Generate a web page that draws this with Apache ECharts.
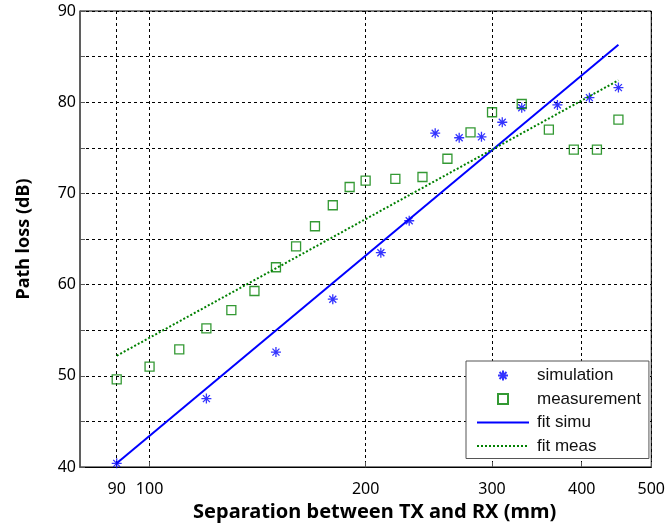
<!DOCTYPE html>
<html>
<head>
<meta charset="utf-8">
<script src="https://cdn.jsdelivr.net/npm/echarts@6/dist/echarts.min.js"></script>
<style>
  html, body { margin: 0; padding: 0; background: #fff; }
  #chart { width: 668px; height: 530px; }
</style>
</head>
<body>
<div id="chart"></div>
<script>
// Path loss vs. TX-RX separation (log distance axis)
const simDistance = [90, 120, 150, 180, 210, 230, 250, 270, 290, 310, 330, 370, 410, 450];
const simLoss     = [40.4, 47.5, 52.6, 58.4, 63.5, 67.0, 76.6, 76.1, 76.2, 77.8, 79.4, 79.7, 80.5, 81.6];

const measDistance = [90, 100, 110, 120, 130, 140, 150, 160, 170, 180, 190, 200, 220, 240, 260, 280, 300, 330, 360, 390, 420, 450];
const measLoss     = [49.6, 51.0, 52.9, 55.2, 57.2, 59.3, 61.9, 64.2, 66.4, 68.7, 70.7, 71.4, 71.6, 71.8, 73.8, 76.7, 78.9, 79.8, 77.0, 74.8, 74.8, 78.1];

// Fitted lines (straight in log-distance), given by their end points
const fitDistance = [90, 450];
const fitSimuLoss = [40.4, 86.3];
const fitMeasLoss = [52.2, 82.4];

const xTicks = [90, 100, 200, 300, 400, 500];
const yMin = 40, yMax = 90, yStep = 5;

const pairs = (xs, ys) => xs.map((x, i) => [x, ys[i]]);

const asterisk = 'path://M5,0V10M0,5H10M1.5,1.5L8.5,8.5M1.5,8.5L8.5,1.5';
const square = 'path://M0,0H10V10H0Z';
const blue = '#0000ff';
const green = '#008000';
const tickFont = { fontFamily: 'Noto Sans', fontSize: 16, color: '#000' };
const gridDash = { color: '#000', width: 1, type: [3, 3] };

const chart = echarts.init(document.getElementById('chart'), null, { renderer: 'canvas' });

chart.setOption({
  animation: false,
  backgroundColor: '#fff',
  grid: {
    left: 80, top: 11, right: 12, bottom: 63,
    show: true, borderColor: '#000', borderWidth: 1, backgroundColor: 'transparent'
  },
  xAxis: {
    type: 'log',
    logBase: 10,
    min: 80,
    max: 500,
    name: 'Separation between TX and RX (mm)',
    nameLocation: 'middle',
    nameGap: 35,
    nameTextStyle: { fontFamily: 'Noto Sans', fontSize: 20, fontWeight: 'bold', color: '#000', padding: [0, 0, 0, 18] },
    axisLine: { show: true, lineStyle: { color: '#000', width: 1 } },
    axisTick: { show: true, inside: true, length: 5, customValues: xTicks, lineStyle: { color: '#555' } },
    axisLabel: { customValues: xTicks, margin: 14, ...tickFont, formatter: v => String(Math.round(v)) },
    splitLine: { show: true, lineStyle: gridDash },
    minorTick: { show: false },
    minorSplitLine: { show: false }
  },
  yAxis: {
    type: 'value',
    min: yMin,
    max: yMax,
    interval: yStep,
    name: 'Path loss (dB)',
    nameLocation: 'middle',
    nameGap: 47,
    nameTextStyle: { fontFamily: 'Noto Sans', fontSize: 18, fontWeight: 'bold', color: '#000' },
    axisLine: { show: true, lineStyle: { color: '#555', width: 1.5 } },
    axisTick: { show: true, inside: true, length: 5, lineStyle: { color: '#555' } },
    axisLabel: { margin: 4, ...tickFont, formatter: v => (v % 10 === 0 ? String(v) : '') },
    splitLine: { show: true, lineStyle: gridDash }
  },
  legend: {
    orient: 'vertical',
    left: 466,
    top: 361,
    padding: [6, 8, 4, 10],
    itemWidth: 52,
    itemHeight: 10,
    itemGap: 6.5,
    backgroundColor: '#fff',
    borderColor: '#555',
    borderWidth: 1,
    borderRadius: 0,
    textStyle: { fontFamily: 'Liberation Sans', fontSize: 17, lineHeight: 17, color: '#111', padding: [0, 0, 0, 3] },
    data: [
      { name: 'simulation' },
      { name: 'measurement', icon: square },
      { name: 'fit simu', itemStyle: { opacity: 0 } },
      { name: 'fit meas', itemStyle: { opacity: 0 } }
    ]
  },
  series: [
    {
      name: 'simulation',
      type: 'scatter',
      symbol: asterisk,
      symbolSize: 10,
      itemStyle: { color: 'transparent', borderColor: blue, borderWidth: 1.3 },
      data: pairs(simDistance, simLoss),
      z: 3
    },
    {
      name: 'measurement',
      type: 'scatter',
      symbol: 'rect',
      symbolSize: 9,
      itemStyle: { color: 'transparent', borderColor: green, borderWidth: 1.3 },
      data: pairs(measDistance, measLoss),
      z: 3
    },
    {
      name: 'fit simu',
      type: 'line',
      symbol: 'none',
      showSymbol: false,
      lineStyle: { color: blue, width: 2 },
      itemStyle: { color: blue },
      data: pairs(fitDistance, fitSimuLoss),
      z: 4
    },
    {
      name: 'fit meas',
      type: 'line',
      symbol: 'none',
      showSymbol: false,
      lineStyle: { color: green, width: 2, type: [2, 2] },
      itemStyle: { color: green },
      data: pairs(fitDistance, fitMeasLoss),
      z: 4
    }
  ]
});
</script>
</body>
</html>
